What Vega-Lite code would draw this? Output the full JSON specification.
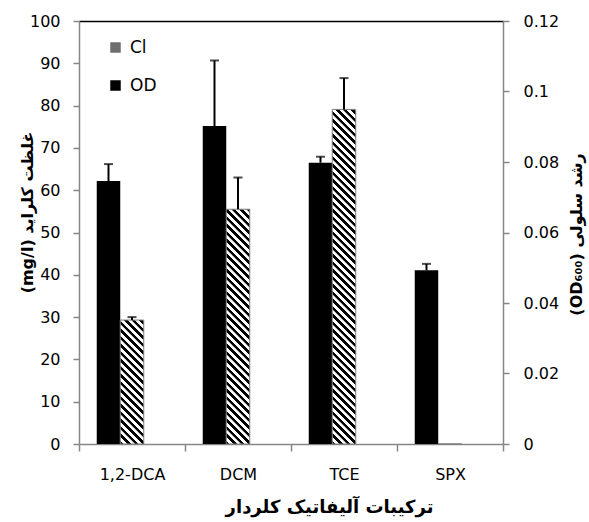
{
  "$schema": "https://vega.github.io/schema/vega-lite/v6.json",
  "autosize": {"type": "none"},
  "padding": {"left": 79, "top": 21, "right": 86, "bottom": 78},
  "width": 424,
  "height": 423,
  "background": "white",
  "config": {"view": {"stroke": null}, "font": "DejaVu Sans"},
  "datasets": {
    "od": [
      {"compound": "1,2-DCA", "series": "OD", "value": 0.0746, "upper": 0.0794},
      {"compound": "DCM", "series": "OD", "value": 0.0902, "upper": 0.1088},
      {"compound": "TCE", "series": "OD", "value": 0.0798, "upper": 0.0815},
      {"compound": "SPX", "series": "OD", "value": 0.0493, "upper": 0.0511}
    ],
    "cl": [
      {"compound": "1,2-DCA", "series": "Cl", "value": 29.3, "upper": 30.0},
      {"compound": "DCM", "series": "Cl", "value": 55.5, "upper": 63.0},
      {"compound": "TCE", "series": "Cl", "value": 79.1, "upper": 86.5},
      {"compound": "SPX", "series": "Cl", "value": 0, "upper": null}
    ]
  },
  "resolve": {"scale": {"y": "independent"}, "axis": {"x": "independent"}},
  "layer": [
    {
      "data": {"name": "od"},
      "encoding": {
        "x": {
          "field": "compound", "type": "nominal",
          "sort": ["1,2-DCA", "DCM", "TCE", "SPX"],
          "scale": {"domain": ["1,2-DCA", "DCM", "TCE", "SPX"], "paddingInner": 0, "paddingOuter": 0},
          "axis": {
            "orient": "bottom", "tickBand": "extent", "labelAngle": 0,
            "domainColor": "#868686", "domainWidth": 1.5, "tickColor": "#868686", "tickWidth": 1.5, "tickSize": 7,
            "labelFont": "DejaVu Sans", "labelFontSize": 16, "labelColor": "black", "labelPadding": 15,
            "title": "ترکیبات آلیفاتیک کلردار", "titleFont": "DejaVu Sans", "titleFontSize": 18, "titleFontWeight": "bold", "titleColor": "black",
            "titleX": 250, "titleY": 63, "titleBaseline": "middle", "titleAlign": "center"
          }
        },
        "xOffset": {"field": "series", "type": "nominal", "scale": {"domain": ["OD", "Cl", "none"], "paddingInner": 0, "paddingOuter": 0.755}}
      },
      "layer": [
        {
          "mark": {"type": "bar", "color": "black"},
          "encoding": {
            "y": {
              "field": "value", "type": "quantitative",
              "scale": {"domain": [0, 0.12], "nice": false, "zero": true},
              "axis": {
                "orient": "right", "values": [0, 0.02, 0.04, 0.06, 0.08, 0.1, 0.12], "format": "~g", "grid": false,
                "domainColor": "#868686", "domainWidth": 1.5, "tickColor": "#868686", "tickWidth": 1.5, "tickSize": 6,
                "labelFont": "DejaVu Sans", "labelFontSize": 16, "labelColor": "black", "labelPadding": 14,
                "title": "(OD₆₀₀) رشد سلولی", "titleFont": "DejaVu Sans", "titleFontSize": 16, "titleFontWeight": "bold", "titleColor": "black",
                "titleAngle": 270, "titleX": 73, "titleY": 213, "titleBaseline": "middle", "titleAlign": "center"
              }
            }
          }
        },
        {
          "mark": {"type": "rule", "color": "black", "strokeWidth": 2},
          "encoding": {
            "y": {"field": "value", "type": "quantitative"},
            "y2": {"field": "upper"}
          }
        },
        {
          "mark": {"type": "tick", "color": "black", "thickness": 2, "size": 9},
          "encoding": {
            "y": {"field": "upper", "type": "quantitative"}
          }
        }
      ]
    },
    {
      "data": {"name": "cl"},
      "encoding": {
        "x": {
          "field": "compound", "type": "nominal",
          "sort": ["1,2-DCA", "DCM", "TCE", "SPX"],
          "scale": {"domain": ["1,2-DCA", "DCM", "TCE", "SPX"], "paddingInner": 0, "paddingOuter": 0},
          "axis": {"orient": "top", "domainColor": "black", "domainWidth": 1.5, "ticks": false, "labels": false, "title": null}
        },
        "xOffset": {"field": "series", "type": "nominal", "scale": {"domain": ["OD", "Cl", "none"], "paddingInner": 0, "paddingOuter": 0.755}}
      },
      "layer": [
        {
          "mark": {"type": "bar", "stroke": "#7f7f7f", "strokeWidth": 1},
          "encoding": {
            "y": {
              "field": "value", "type": "quantitative",
              "scale": {"domain": [0, 100], "nice": false, "zero": true},
              "axis": {
                "orient": "left", "values": [0, 10, 20, 30, 40, 50, 60, 70, 80, 90, 100], "grid": false,
                "domainColor": "#868686", "domainWidth": 1.5, "tickColor": "#868686", "tickWidth": 1.5, "tickSize": 6,
                "labelFont": "DejaVu Sans", "labelFontSize": 16, "labelColor": "black", "labelPadding": 13,
                "title": "(mg/l)  غلظت کلراید", "titleFont": "DejaVu Sans", "titleFontSize": 16, "titleFontWeight": "bold", "titleColor": "black",
                "titleAngle": 270, "titleX": -52, "titleY": 191, "titleBaseline": "middle", "titleAlign": "center"
              }
            },
            "fill": {
              "field": "series", "type": "nominal",
              "scale": {"domain": ["Cl", "OD"], "range": ["#6e6e6e", "#000000"]},
              "legend": {
                "title": null, "orient": "none", "legendX": 28, "legendY": 18, "padding": 0,
                "symbolType": "square", "symbolSize": 110, "symbolStrokeWidth": 0,
                "labelFont": "DejaVu Sans", "labelFontSize": 17, "labelColor": "black", "labelOffset": 6, "rowPadding": 20
              },
              "condition": [
                {"test": "datum.compound === '1,2-DCA'", "value": {"gradient": "linear", "x1": 0, "y1": 1, "x2": 0.5541, "y2": -1.9216, "stops": [
                  {"offset":0,"color":"#000"},{"offset":0.009,"color":"#000"},{"offset":0.01,"color":"#fff"},{"offset":0.019,"color":"#fff"},
                  {"offset":0.02,"color":"#000"},{"offset":0.029,"color":"#000"},{"offset":0.03,"color":"#fff"},{"offset":0.039,"color":"#fff"},
                  {"offset":0.04,"color":"#000"},{"offset":0.049,"color":"#000"},{"offset":0.05,"color":"#fff"},{"offset":0.059,"color":"#fff"},
                  {"offset":0.06,"color":"#000"},{"offset":0.069,"color":"#000"},{"offset":0.07,"color":"#fff"},{"offset":0.079,"color":"#fff"},
                  {"offset":0.08,"color":"#000"},{"offset":0.089,"color":"#000"},{"offset":0.09,"color":"#fff"},{"offset":0.099,"color":"#fff"},
                  {"offset":0.1,"color":"#000"},{"offset":0.109,"color":"#000"},{"offset":0.11,"color":"#fff"},{"offset":0.119,"color":"#fff"},
                  {"offset":0.12,"color":"#000"},{"offset":0.129,"color":"#000"},{"offset":0.13,"color":"#fff"},{"offset":0.139,"color":"#fff"},
                  {"offset":0.14,"color":"#000"},{"offset":0.149,"color":"#000"},{"offset":0.15,"color":"#fff"},{"offset":0.159,"color":"#fff"},
                  {"offset":0.16,"color":"#000"},{"offset":0.169,"color":"#000"},{"offset":0.17,"color":"#fff"},{"offset":0.179,"color":"#fff"},
                  {"offset":0.18,"color":"#000"},{"offset":0.189,"color":"#000"},{"offset":0.19,"color":"#fff"},{"offset":0.199,"color":"#fff"},
                  {"offset":0.2,"color":"#000"},{"offset":0.209,"color":"#000"},{"offset":0.21,"color":"#fff"},{"offset":0.219,"color":"#fff"},
                  {"offset":0.22,"color":"#000"},{"offset":0.229,"color":"#000"},{"offset":0.23,"color":"#fff"},{"offset":0.239,"color":"#fff"},
                  {"offset":0.24,"color":"#000"},{"offset":0.249,"color":"#000"},{"offset":0.25,"color":"#fff"},{"offset":0.259,"color":"#fff"},
                  {"offset":0.26,"color":"#000"},{"offset":0.269,"color":"#000"},{"offset":0.27,"color":"#fff"},{"offset":0.279,"color":"#fff"},
                  {"offset":0.28,"color":"#000"},{"offset":0.289,"color":"#000"},{"offset":0.29,"color":"#fff"},{"offset":0.299,"color":"#fff"},
                  {"offset":0.3,"color":"#000"},{"offset":0.309,"color":"#000"},{"offset":0.31,"color":"#fff"},{"offset":0.319,"color":"#fff"},
                  {"offset":0.32,"color":"#000"},{"offset":0.329,"color":"#000"},{"offset":0.33,"color":"#fff"},{"offset":0.339,"color":"#fff"},
                  {"offset":0.34,"color":"#000"},{"offset":0.349,"color":"#000"},{"offset":0.35,"color":"#fff"},{"offset":0.359,"color":"#fff"},
                  {"offset":0.36,"color":"#000"},{"offset":0.369,"color":"#000"},{"offset":0.37,"color":"#fff"},{"offset":0.379,"color":"#fff"},
                  {"offset":0.38,"color":"#000"},{"offset":0.389,"color":"#000"},{"offset":0.39,"color":"#fff"},{"offset":0.399,"color":"#fff"}
                ]}},
                {"test": "datum.compound === 'DCM'", "value": {"gradient": "linear", "x1": 0, "y1": 1, "x2": 0.1583, "y2": -0.5813, "stops": [
                  {"offset":0,"color":"#000"},{"offset":0.009,"color":"#000"},{"offset":0.01,"color":"#fff"},{"offset":0.019,"color":"#fff"},
                  {"offset":0.02,"color":"#000"},{"offset":0.029,"color":"#000"},{"offset":0.03,"color":"#fff"},{"offset":0.039,"color":"#fff"},
                  {"offset":0.04,"color":"#000"},{"offset":0.049,"color":"#000"},{"offset":0.05,"color":"#fff"},{"offset":0.059,"color":"#fff"},
                  {"offset":0.06,"color":"#000"},{"offset":0.069,"color":"#000"},{"offset":0.07,"color":"#fff"},{"offset":0.079,"color":"#fff"},
                  {"offset":0.08,"color":"#000"},{"offset":0.089,"color":"#000"},{"offset":0.09,"color":"#fff"},{"offset":0.099,"color":"#fff"},
                  {"offset":0.1,"color":"#000"},{"offset":0.109,"color":"#000"},{"offset":0.11,"color":"#fff"},{"offset":0.119,"color":"#fff"},
                  {"offset":0.12,"color":"#000"},{"offset":0.129,"color":"#000"},{"offset":0.13,"color":"#fff"},{"offset":0.139,"color":"#fff"},
                  {"offset":0.14,"color":"#000"},{"offset":0.149,"color":"#000"},{"offset":0.15,"color":"#fff"},{"offset":0.159,"color":"#fff"},
                  {"offset":0.16,"color":"#000"},{"offset":0.169,"color":"#000"},{"offset":0.17,"color":"#fff"},{"offset":0.179,"color":"#fff"},
                  {"offset":0.18,"color":"#000"},{"offset":0.189,"color":"#000"},{"offset":0.19,"color":"#fff"},{"offset":0.199,"color":"#fff"},
                  {"offset":0.2,"color":"#000"},{"offset":0.209,"color":"#000"},{"offset":0.21,"color":"#fff"},{"offset":0.219,"color":"#fff"},
                  {"offset":0.22,"color":"#000"},{"offset":0.229,"color":"#000"},{"offset":0.23,"color":"#fff"},{"offset":0.239,"color":"#fff"},
                  {"offset":0.24,"color":"#000"},{"offset":0.249,"color":"#000"},{"offset":0.25,"color":"#fff"},{"offset":0.259,"color":"#fff"},
                  {"offset":0.26,"color":"#000"},{"offset":0.269,"color":"#000"},{"offset":0.27,"color":"#fff"},{"offset":0.279,"color":"#fff"},
                  {"offset":0.28,"color":"#000"},{"offset":0.289,"color":"#000"},{"offset":0.29,"color":"#fff"},{"offset":0.299,"color":"#fff"},
                  {"offset":0.3,"color":"#000"},{"offset":0.309,"color":"#000"},{"offset":0.31,"color":"#fff"},{"offset":0.319,"color":"#fff"},
                  {"offset":0.32,"color":"#000"},{"offset":0.329,"color":"#000"},{"offset":0.33,"color":"#fff"},{"offset":0.339,"color":"#fff"},
                  {"offset":0.34,"color":"#000"},{"offset":0.349,"color":"#000"},{"offset":0.35,"color":"#fff"},{"offset":0.359,"color":"#fff"},
                  {"offset":0.36,"color":"#000"},{"offset":0.369,"color":"#000"},{"offset":0.37,"color":"#fff"},{"offset":0.379,"color":"#fff"},
                  {"offset":0.38,"color":"#000"},{"offset":0.389,"color":"#000"},{"offset":0.39,"color":"#fff"},{"offset":0.399,"color":"#fff"},
                  {"offset":0.4,"color":"#000"},{"offset":0.409,"color":"#000"},{"offset":0.41,"color":"#fff"},{"offset":0.419,"color":"#fff"},
                  {"offset":0.42,"color":"#000"},{"offset":0.429,"color":"#000"},{"offset":0.43,"color":"#fff"},{"offset":0.439,"color":"#fff"},
                  {"offset":0.44,"color":"#000"},{"offset":0.449,"color":"#000"},{"offset":0.45,"color":"#fff"},{"offset":0.459,"color":"#fff"},
                  {"offset":0.46,"color":"#000"},{"offset":0.469,"color":"#000"},{"offset":0.47,"color":"#fff"},{"offset":0.479,"color":"#fff"},
                  {"offset":0.48,"color":"#000"},{"offset":0.489,"color":"#000"},{"offset":0.49,"color":"#fff"},{"offset":0.499,"color":"#fff"},
                  {"offset":0.5,"color":"#000"},{"offset":0.509,"color":"#000"},{"offset":0.51,"color":"#fff"},{"offset":0.519,"color":"#fff"},
                  {"offset":0.52,"color":"#000"},{"offset":0.529,"color":"#000"},{"offset":0.53,"color":"#fff"},{"offset":0.539,"color":"#fff"},
                  {"offset":0.54,"color":"#000"},{"offset":0.549,"color":"#000"},{"offset":0.55,"color":"#fff"},{"offset":0.559,"color":"#fff"},
                  {"offset":0.56,"color":"#000"},{"offset":0.569,"color":"#000"},{"offset":0.57,"color":"#fff"},{"offset":0.579,"color":"#fff"},
                  {"offset":0.58,"color":"#000"},{"offset":0.589,"color":"#000"},{"offset":0.59,"color":"#fff"},{"offset":0.599,"color":"#fff"},
                  {"offset":0.6,"color":"#000"},{"offset":0.609,"color":"#000"},{"offset":0.61,"color":"#fff"},{"offset":0.619,"color":"#fff"},
                  {"offset":0.62,"color":"#000"},{"offset":0.629,"color":"#000"},{"offset":0.63,"color":"#fff"},{"offset":0.639,"color":"#fff"},
                  {"offset":0.64,"color":"#000"},{"offset":0.649,"color":"#000"},{"offset":0.65,"color":"#fff"},{"offset":0.659,"color":"#fff"},
                  {"offset":0.66,"color":"#000"},{"offset":0.669,"color":"#000"},{"offset":0.67,"color":"#fff"},{"offset":0.679,"color":"#fff"},
                  {"offset":0.68,"color":"#000"},{"offset":0.689,"color":"#000"},{"offset":0.69,"color":"#fff"},{"offset":0.699,"color":"#fff"}
                ]}},
                {"test": "datum.compound === 'TCE'", "value": {"gradient": "linear", "x1": 0, "y1": 1, "x2": 0.0783, "y2": -0.1152, "stops": [
                  {"offset":0,"color":"#000"},{"offset":0.009,"color":"#000"},{"offset":0.01,"color":"#fff"},{"offset":0.019,"color":"#fff"},
                  {"offset":0.02,"color":"#000"},{"offset":0.029,"color":"#000"},{"offset":0.03,"color":"#fff"},{"offset":0.039,"color":"#fff"},
                  {"offset":0.04,"color":"#000"},{"offset":0.049,"color":"#000"},{"offset":0.05,"color":"#fff"},{"offset":0.059,"color":"#fff"},
                  {"offset":0.06,"color":"#000"},{"offset":0.069,"color":"#000"},{"offset":0.07,"color":"#fff"},{"offset":0.079,"color":"#fff"},
                  {"offset":0.08,"color":"#000"},{"offset":0.089,"color":"#000"},{"offset":0.09,"color":"#fff"},{"offset":0.099,"color":"#fff"},
                  {"offset":0.1,"color":"#000"},{"offset":0.109,"color":"#000"},{"offset":0.11,"color":"#fff"},{"offset":0.119,"color":"#fff"},
                  {"offset":0.12,"color":"#000"},{"offset":0.129,"color":"#000"},{"offset":0.13,"color":"#fff"},{"offset":0.139,"color":"#fff"},
                  {"offset":0.14,"color":"#000"},{"offset":0.149,"color":"#000"},{"offset":0.15,"color":"#fff"},{"offset":0.159,"color":"#fff"},
                  {"offset":0.16,"color":"#000"},{"offset":0.169,"color":"#000"},{"offset":0.17,"color":"#fff"},{"offset":0.179,"color":"#fff"},
                  {"offset":0.18,"color":"#000"},{"offset":0.189,"color":"#000"},{"offset":0.19,"color":"#fff"},{"offset":0.199,"color":"#fff"},
                  {"offset":0.2,"color":"#000"},{"offset":0.209,"color":"#000"},{"offset":0.21,"color":"#fff"},{"offset":0.219,"color":"#fff"},
                  {"offset":0.22,"color":"#000"},{"offset":0.229,"color":"#000"},{"offset":0.23,"color":"#fff"},{"offset":0.239,"color":"#fff"},
                  {"offset":0.24,"color":"#000"},{"offset":0.249,"color":"#000"},{"offset":0.25,"color":"#fff"},{"offset":0.259,"color":"#fff"},
                  {"offset":0.26,"color":"#000"},{"offset":0.269,"color":"#000"},{"offset":0.27,"color":"#fff"},{"offset":0.279,"color":"#fff"},
                  {"offset":0.28,"color":"#000"},{"offset":0.289,"color":"#000"},{"offset":0.29,"color":"#fff"},{"offset":0.299,"color":"#fff"},
                  {"offset":0.3,"color":"#000"},{"offset":0.309,"color":"#000"},{"offset":0.31,"color":"#fff"},{"offset":0.319,"color":"#fff"},
                  {"offset":0.32,"color":"#000"},{"offset":0.329,"color":"#000"},{"offset":0.33,"color":"#fff"},{"offset":0.339,"color":"#fff"},
                  {"offset":0.34,"color":"#000"},{"offset":0.349,"color":"#000"},{"offset":0.35,"color":"#fff"},{"offset":0.359,"color":"#fff"},
                  {"offset":0.36,"color":"#000"},{"offset":0.369,"color":"#000"},{"offset":0.37,"color":"#fff"},{"offset":0.379,"color":"#fff"},
                  {"offset":0.38,"color":"#000"},{"offset":0.389,"color":"#000"},{"offset":0.39,"color":"#fff"},{"offset":0.399,"color":"#fff"},
                  {"offset":0.4,"color":"#000"},{"offset":0.409,"color":"#000"},{"offset":0.41,"color":"#fff"},{"offset":0.419,"color":"#fff"},
                  {"offset":0.42,"color":"#000"},{"offset":0.429,"color":"#000"},{"offset":0.43,"color":"#fff"},{"offset":0.439,"color":"#fff"},
                  {"offset":0.44,"color":"#000"},{"offset":0.449,"color":"#000"},{"offset":0.45,"color":"#fff"},{"offset":0.459,"color":"#fff"},
                  {"offset":0.46,"color":"#000"},{"offset":0.469,"color":"#000"},{"offset":0.47,"color":"#fff"},{"offset":0.479,"color":"#fff"},
                  {"offset":0.48,"color":"#000"},{"offset":0.489,"color":"#000"},{"offset":0.49,"color":"#fff"},{"offset":0.499,"color":"#fff"},
                  {"offset":0.5,"color":"#000"},{"offset":0.509,"color":"#000"},{"offset":0.51,"color":"#fff"},{"offset":0.519,"color":"#fff"},
                  {"offset":0.52,"color":"#000"},{"offset":0.529,"color":"#000"},{"offset":0.53,"color":"#fff"},{"offset":0.539,"color":"#fff"},
                  {"offset":0.54,"color":"#000"},{"offset":0.549,"color":"#000"},{"offset":0.55,"color":"#fff"},{"offset":0.559,"color":"#fff"},
                  {"offset":0.56,"color":"#000"},{"offset":0.569,"color":"#000"},{"offset":0.57,"color":"#fff"},{"offset":0.579,"color":"#fff"},
                  {"offset":0.58,"color":"#000"},{"offset":0.589,"color":"#000"},{"offset":0.59,"color":"#fff"},{"offset":0.599,"color":"#fff"},
                  {"offset":0.6,"color":"#000"},{"offset":0.609,"color":"#000"},{"offset":0.61,"color":"#fff"},{"offset":0.619,"color":"#fff"},
                  {"offset":0.62,"color":"#000"},{"offset":0.629,"color":"#000"},{"offset":0.63,"color":"#fff"},{"offset":0.639,"color":"#fff"},
                  {"offset":0.64,"color":"#000"},{"offset":0.649,"color":"#000"},{"offset":0.65,"color":"#fff"},{"offset":0.659,"color":"#fff"},
                  {"offset":0.66,"color":"#000"},{"offset":0.669,"color":"#000"},{"offset":0.67,"color":"#fff"},{"offset":0.679,"color":"#fff"},
                  {"offset":0.68,"color":"#000"},{"offset":0.689,"color":"#000"},{"offset":0.69,"color":"#fff"},{"offset":0.699,"color":"#fff"},
                  {"offset":0.7,"color":"#000"},{"offset":0.709,"color":"#000"},{"offset":0.71,"color":"#fff"},{"offset":0.719,"color":"#fff"},
                  {"offset":0.72,"color":"#000"},{"offset":0.729,"color":"#000"},{"offset":0.73,"color":"#fff"},{"offset":0.739,"color":"#fff"},
                  {"offset":0.74,"color":"#000"},{"offset":0.749,"color":"#000"},{"offset":0.75,"color":"#fff"},{"offset":0.759,"color":"#fff"},
                  {"offset":0.76,"color":"#000"},{"offset":0.769,"color":"#000"},{"offset":0.77,"color":"#fff"},{"offset":0.779,"color":"#fff"},
                  {"offset":0.78,"color":"#000"},{"offset":0.789,"color":"#000"},{"offset":0.79,"color":"#fff"},{"offset":0.799,"color":"#fff"},
                  {"offset":0.8,"color":"#000"},{"offset":0.809,"color":"#000"},{"offset":0.81,"color":"#fff"},{"offset":0.819,"color":"#fff"},
                  {"offset":0.82,"color":"#000"},{"offset":0.829,"color":"#000"},{"offset":0.83,"color":"#fff"},{"offset":0.839,"color":"#fff"},
                  {"offset":0.84,"color":"#000"},{"offset":0.849,"color":"#000"},{"offset":0.85,"color":"#fff"},{"offset":0.859,"color":"#fff"},
                  {"offset":0.86,"color":"#000"},{"offset":0.869,"color":"#000"},{"offset":0.87,"color":"#fff"},{"offset":0.879,"color":"#fff"},
                  {"offset":0.88,"color":"#000"},{"offset":0.889,"color":"#000"},{"offset":0.89,"color":"#fff"},{"offset":0.899,"color":"#fff"},
                  {"offset":0.9,"color":"#000"},{"offset":0.909,"color":"#000"},{"offset":0.91,"color":"#fff"},{"offset":0.919,"color":"#fff"},
                  {"offset":0.92,"color":"#000"},{"offset":0.929,"color":"#000"},{"offset":0.93,"color":"#fff"},{"offset":0.939,"color":"#fff"},
                  {"offset":0.94,"color":"#000"},{"offset":0.949,"color":"#000"},{"offset":0.95,"color":"#fff"},{"offset":0.959,"color":"#fff"}
                ]}}
              ]
            }
          }
        },
        {
          "transform": [{"filter": "datum.upper != null"}],
          "mark": {"type": "rule", "color": "black", "strokeWidth": 2},
          "encoding": {
            "y": {"field": "value", "type": "quantitative"},
            "y2": {"field": "upper"}
          }
        },
        {
          "transform": [{"filter": "datum.upper != null"}],
          "mark": {"type": "tick", "color": "black", "thickness": 2, "size": 9},
          "encoding": {
            "y": {"field": "upper", "type": "quantitative"}
          }
        }
      ]
    }
  ]
}
